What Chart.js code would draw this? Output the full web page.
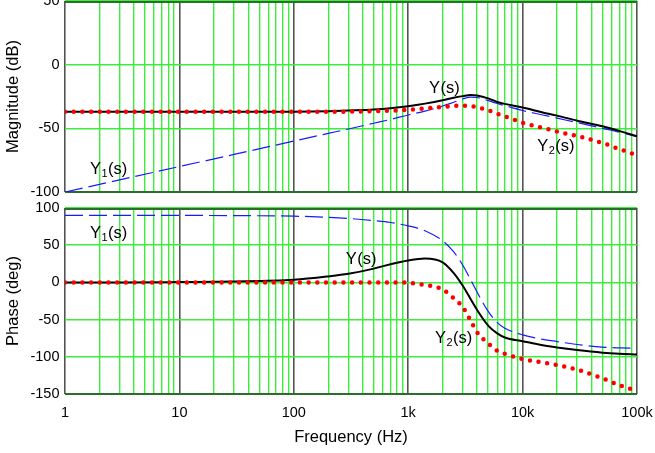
<!DOCTYPE html>
<html>
<head>
<meta charset="utf-8">
<script src="https://cdn.jsdelivr.net/npm/chart.js@4.4.0/dist/chart.umd.min.js"></script>
<style>
  html, body { margin: 0; padding: 0; background: #fff; }
  #wrap { position: relative; width: 655px; height: 453px; }
  #magBox { position: absolute; left: 0; top: 0; width: 655px; height: 200px; }
  #phaseBox { position: absolute; left: 0; top: 200px; width: 655px; height: 253px; }
</style>
</head>
<body>
<div id="wrap">
  <div id="magBox"><canvas id="mag" width="655" height="200"></canvas></div>
  <div id="phaseBox"><canvas id="phase" width="655" height="253"></canvas></div>
</div>
<script>
// frequency points (Hz) the curves were read at
const freqs = [1, 3, 10, 30, 100, 200, 300, 500, 700, 1000, 1400, 2000, 2500, 3000, 3500, 4000, 5000, 6000, 7000, 10000, 15000, 20000, 30000, 50000, 70000, 100000];

// magnitude, dB
const magY  = [-37, -37, -37, -37, -36.9, -36.5, -36, -35.2, -34.2, -32.6, -30.6, -28, -26, -24.7, -23.8, -24.3, -26.5, -29.3, -30.8, -33.6, -37.5, -40, -44, -48.4, -52, -56.3];
const magY1 = [-100, -90.5, -80, -70.5, -60, -54, -50.5, -46, -43, -39.5, -36.5, -32.5, -29.5, -27, -25.5, -25.8, -28.2, -30.5, -32.2, -36, -39.5, -42, -45.5, -50, -53, -56.5];
const magY2 = [-37, -37, -37, -37, -37, -37, -36.9, -36.5, -36.1, -35.5, -34.5, -33.2, -32.4, -32.2, -32.4, -33.5, -35.8, -38.6, -40.6, -45.6, -49.6, -52.6, -56, -61.5, -66.3, -71];

// phase, degrees
const phY  = [0, 0, 0.5, 1.2, 3.5, 8, 11.5, 18.5, 24.5, 29.5, 32, 27, 12.5, -4.5, -22, -37, -58, -68.5, -74, -79, -84.5, -87.5, -91, -94.5, -96, -97];
const phY1 = [90, 90, 90, 89.8, 89, 87.5, 86, 83, 80.5, 76, 69.5, 56, 41, 23, 4, -13, -39, -54, -61.5, -70.5, -76.5, -79.5, -83.5, -87, -88, -88.6];
const phY2 = [0, 0, 0, 0, 0, 0, 0, 0, 0, -0.5, -3.5, -9.5, -21.5, -33, -51, -67, -82, -92, -96, -103, -107.7, -111, -117.2, -129, -138, -146];

const magTicks = [-100, -50, 0, 50];
const phaseTicks = [-150, -100, -50, 0, 50, 100];
const decadeLabels = { 1: '1', 10: '10', 100: '100', 1000: '1k', 10000: '10k', 100000: '100k' };

// curve labels: [base, subscript, freq, value]
const magNotes = [['Y', '', 1520, -22.2], ['Y', '2', 13400, -67.7], ['Y', '1', 1.65, -85.8]];
const phaseNotes = [['Y', '1', 1.65, 60.3], ['Y', '', 284, 25.4], ['Y', '2', 1715, -80.8]];

Chart.defaults.font.family = '"Liberation Sans", Arial, sans-serif';
Chart.defaults.color = '#000';

const pts = (ys) => freqs.map((f, i) => ({ x: f, y: ys[i] }));
const isDecade = (v) => Math.abs(Math.log10(v) - Math.round(Math.log10(v))) < 1e-9;

function logTicks(scale) {
  const t = [];
  for (let d = 1; d <= 100000; d *= 10) {
    for (let m = 1; m <= 9; m++) {
      if (d * m <= 100000) t.push({ value: d * m });
    }
  }
  scale.ticks = t;
}

const edgeLines = {
  id: 'edgeLines',
  beforeDatasetsDraw(chart) {
    const { ctx, chartArea: a } = chart;
    ctx.save();
    ctx.strokeStyle = '#2b6e2b';
    ctx.lineWidth = 2;
    ctx.beginPath();
    ctx.moveTo(a.left, a.top + 1); ctx.lineTo(a.right, a.top + 1);
    ctx.moveTo(a.left, a.bottom); ctx.lineTo(a.right, a.bottom);
    ctx.stroke();
    ctx.restore();
  }
};

const curveNotes = {
  id: 'curveNotes',
  afterDatasetsDraw(chart, args, opts) {
    const { ctx, scales } = chart;
    ctx.save();
    ctx.fillStyle = '#000';
    ctx.textBaseline = 'alphabetic';
    ctx.textAlign = 'left';
    (opts.items || []).forEach(([base, sub, f, v]) => {
      let x = scales.x.getPixelForValue(f);
      const y = scales.y.getPixelForValue(v);
      ctx.font = '16.5px "Liberation Sans", Arial, sans-serif';
      ctx.fillText(base, x, y);
      x += ctx.measureText(base).width + 0.5;
      if (sub) {
        ctx.font = '11px "Liberation Sans", Arial, sans-serif';
        ctx.fillText(sub, x, y + 3);
        x += ctx.measureText(sub).width + 0.5;
      }
      ctx.font = '16.5px "Liberation Sans", Arial, sans-serif';
      ctx.fillText('(s)', x, y);
    });
    ctx.restore();
  }
};

function datasets(yy, y1, y2) {
  return [
    {
      label: 'Y2(s)', data: pts(y2), order: 0,
      borderColor: '#ff0000', borderWidth: 4.5, borderDash: [0, 8.7],
      borderCapStyle: 'round', pointRadius: 0, cubicInterpolationMode: 'monotone'
    },
    {
      label: 'Y(s)', data: pts(yy), order: 1,
      borderColor: '#000', borderWidth: 2, pointRadius: 0, cubicInterpolationMode: 'monotone'
    },
    {
      label: 'Y1(s)', data: pts(y1), order: 2,
      borderColor: '#1a1aff', borderWidth: 1.2, borderDash: [18, 6],
      pointRadius: 0, cubicInterpolationMode: 'monotone'
    }
  ];
}

function xScale(showLabels, height) {
  return {
    type: 'logarithmic', min: 1, max: 100000,
    afterBuildTicks: logTicks,
    afterFit: (s) => { s.height = height; s.paddingLeft = 0; s.paddingRight = 0; },
    border: { display: false },
    grid: {
      drawTicks: false,
      color: (c) => (c.tick && isDecade(c.tick.value) ? '#555' : '#3ced3c'),
      lineWidth: (c) => (c.tick && isDecade(c.tick.value) ? 1.6 : 1.4)
    },
    ticks: {
      display: showLabels, autoSkip: false, maxRotation: 0, minRotation: 0,
      padding: 10, font: { size: 14.5 },
      callback: (v) => decadeLabels[v] || ''
    },
    title: {
      display: showLabels, text: 'Frequency (Hz)',
      font: { size: 16.5 }, padding: { top: 0, bottom: 6 }
    }
  };
}

function yScale(tickList, title) {
  return {
    type: 'linear', min: tickList[0], max: tickList[tickList.length - 1],
    afterBuildTicks: (s) => { s.ticks = tickList.map((v) => ({ value: v })); },
    afterFit: (s) => { s.width = 65; s.paddingTop = 0; s.paddingBottom = 0; },
    border: { display: false },
    grid: { drawTicks: false, color: '#3ced3c', lineWidth: 1.4 },
    ticks: { padding: 5.5, font: { size: 14.5 } },
    title: { display: true, text: title, font: { size: 16.5 }, padding: { top: 3.5 } }
  };
}

function makeChart(id, yy, y1, y2, tickList, title, notes, pad, xHeight, showX) {
  return new Chart(document.getElementById(id), {
    type: 'line',
    data: { datasets: datasets(yy, y1, y2) },
    options: {
      responsive: false, animation: false,
      layout: { padding: pad },
      plugins: { legend: { display: false }, tooltip: { enabled: false }, curveNotes: { items: notes } },
      scales: { x: xScale(showX, xHeight), y: yScale(tickList, title) }
    },
    plugins: [edgeLines, curveNotes]
  });
}

makeChart('mag', magY, magY1, magY2, magTicks, 'Magnitude (dB)', magNotes,
  { left: 0, right: 18, top: 1, bottom: 8 }, 0, false);
makeChart('phase', phY, phY1, phY2, phaseTicks, 'Phase (deg)', phaseNotes,
  { left: 0, right: 18, top: 8, bottom: 0 }, 59, true);
</script>
</body>
</html>
